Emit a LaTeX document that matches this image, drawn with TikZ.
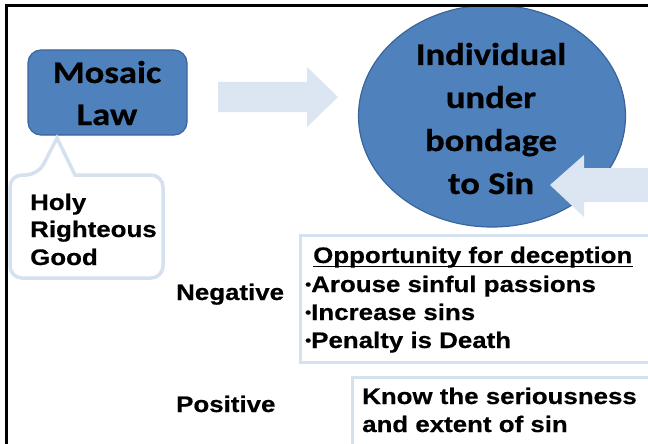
\documentclass[tikz,border=0pt]{standalone}
\usepackage{fontspec}
\newfontfamily\arialb{Liberation Sans}[FakeStretch=1.15,FakeBold=0.5]
\newfontfamily\calib{Carlito}[FakeStretch=1.16,FakeBold=0.6]
\definecolor{lawblue}{HTML}{4F81BD}
\definecolor{lawedge}{HTML}{3A659C}
\definecolor{arrowblue}{HTML}{DCE6F2}
\definecolor{paleedge}{HTML}{D6E1EF}
\newcommand{\smallbul}{{\fontsize{15}{15}\selectfont\raisebox{2.5pt}{•}}}
\begin{document}
\begin{tikzpicture}[x=1pt,y=-1pt,
  blk/.style={fill=lawblue, draw=lawedge, line width=1.2},
  lightarrow/.style={fill=arrowblue, draw=none},
  pale/.style={draw=paleedge, line width=3.5, fill=white},
  lbl/.style={inner sep=0, anchor=base west, font=\arialb\bfseries\fontsize{22.5}{27}\selectfont},
  ctr/.style={inner sep=0, anchor=base, font=\calib\bfseries\fontsize{31.5}{38}\selectfont}]
\useasboundingbox (0,0) rectangle (648,444);
\clip (0,0) rectangle (648,444);
\fill[white] (0,0) rectangle (648,444);

% Mosaic Law box
\draw[blk, rounded corners=13] (28,50) rectangle (187,135);
\node[ctr] (mos1) at (107,83) {Mosaic};
\node[ctr] (mos2) at (107,125) {Law};

% callout
\draw[pale, rounded corners=12] (75,175) -- (163,175) -- (163,278) -- (10,278) -- (10,175) -- (38,175) [sharp corners] -- (57,138) -- cycle;
\node[lbl] (holy) at (30,210) {Holy};
\node[lbl] (right) at (30,237) {Righteous};
\node[lbl] (good) at (30,265) {Good};

% right arrow
\fill[lightarrow] (218,82) -- (307,82) -- (307,67) -- (338,97) -- (307,127) -- (307,112) -- (218,112) -- cycle;

% ellipse
\draw[blk] (492,116) ellipse [x radius=133.5, y radius=111];
\node[ctr] (ind1) at (491,65) {Individual};
\node[ctr] (ind2) at (491,108) {under};
\node[ctr] (ind3) at (491,151) {bondage};
\node[ctr] (ind4) at (491,194) {to Sin};

% left arrow
\fill[lightarrow] (550,185) -- (584,155) -- (584,168) -- (670,168) -- (670,202) -- (584,202) -- (584,217) -- cycle;

% negative box
\draw[pale, line width=3] (300,235) rectangle (670,362);
\node[lbl] (opp) at (313,263) {Opportunity for deception};
\draw[line width=1.8] ([yshift=-3.5]opp.base west) -- ([yshift=-3.5]opp.base east);
\node[lbl] (n1) at (305,292) {\smallbul Arouse sinful passions};
\node[lbl] (n2) at (305,320) {\smallbul Increase sins};
\node[lbl] (n3) at (305,348) {\smallbul Penalty is Death};
\node[lbl] (neg) at (176,300) {Negative};

% positive box
\draw[pale, line width=3] (352,377) rectangle (670,470);
\node[lbl] (p1) at (362,404) {Know the seriousness};
\node[lbl] (p2) at (362,432) {and extent of sin};
\node[lbl] (pos) at (176,412) {Positive};

% frame
\draw[line width=3] (6,460) -- (6,6) -- (660,6);
\end{tikzpicture}
\end{document}
